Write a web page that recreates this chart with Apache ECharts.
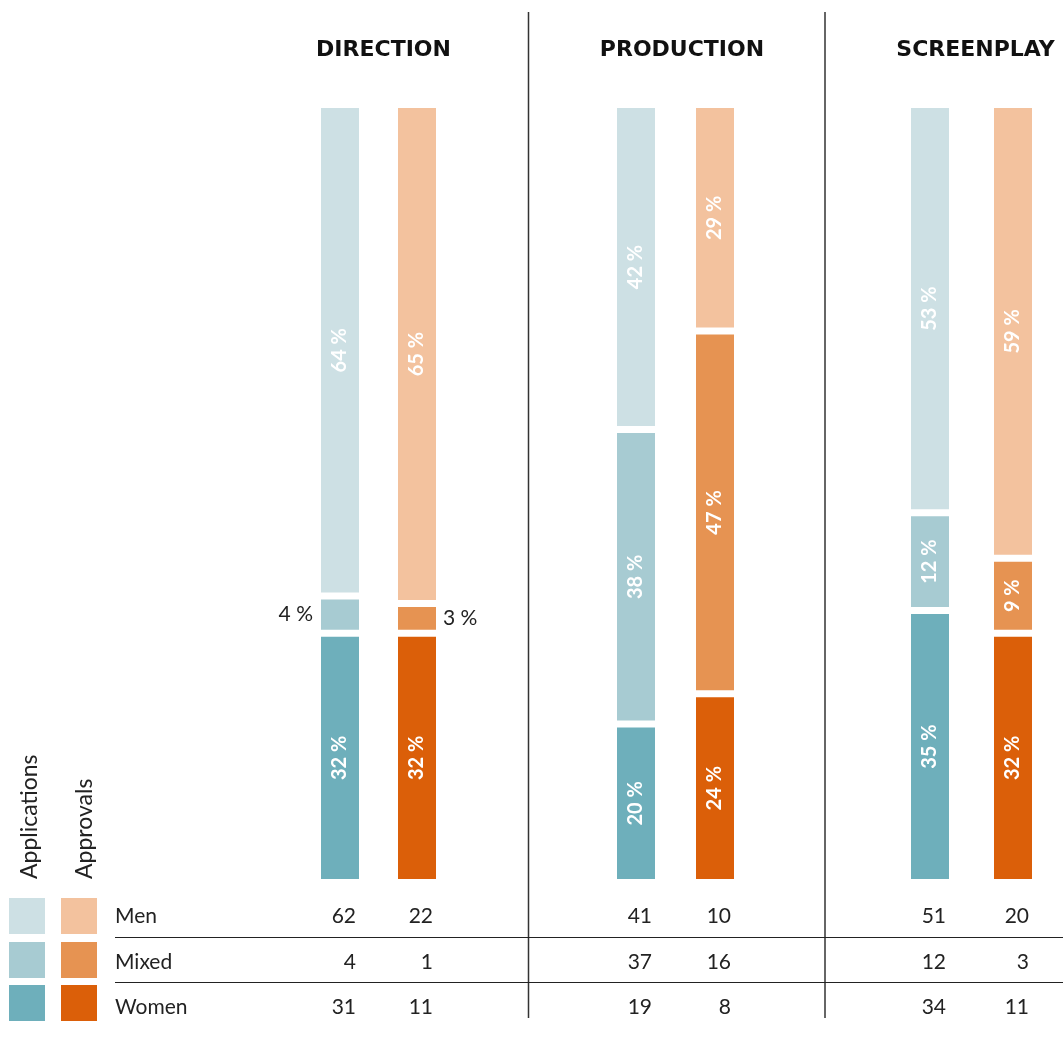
<!DOCTYPE html>
<html>
<head>
<meta charset="utf-8">
<script src="https://cdn.jsdelivr.net/npm/echarts@6/dist/echarts.min.js"></script>
<style>
  html, body { margin: 0; padding: 0; background: #ffffff; }
  #chart { width: 1063px; height: 1042px; }
</style>
</head>
<body>
<div id="chart"></div>
<script>
// ---- data ----
const panels = ['DIRECTION', 'PRODUCTION', 'SCREENPLAY'];
const rowLabels = ['Men', 'Mixed', 'Women'];
const barNames = ['Applications', 'Approvals'];

// shares in % per panel
const appsMenPct   = [64, 42, 53];
const appsMixedPct = [4, 38, 12];
const appsWomenPct = [32, 20, 35];
const apprMenPct   = [65, 29, 59];
const apprMixedPct = [3, 47, 9];
const apprWomenPct = [32, 24, 32];

// counts per panel
const appsMen   = [62, 41, 51];
const appsMixed = [4, 37, 12];
const appsWomen = [31, 19, 34];
const apprMen   = [22, 10, 20];
const apprMixed = [1, 16, 3];
const apprWomen = [11, 8, 11];

// ---- styles ----
const FONT = 'Lato';
const TITLE_FONT = '"DejaVu Sans"';
const appsColors = ['#6eafbb', '#a7cbd2', '#cde0e4']; // women, mixed, men
const apprColors = ['#db5f09', '#e69352', '#f3c29e'];
const gridBoxes = [
  { left: 301.5, width: 154 },
  { left: 596.5, width: 158 },
  { left: 888.5, width: 166 }
];
const titleX = [383.5, 682, 975.5];
const BAR_W = 38;
const GAP = 7;

const chart = echarts.init(document.getElementById('chart'), null, { renderer: 'canvas' });

function renderItem(params, api) {
  const cat = api.value(0);
  const layer = api.value(1);
  const pct = api.value(2);
  const base = api.value(3);
  const pb = api.coord([cat, base]);
  const pt = api.coord([cat, base + pct]);
  const yb = pb[1] - layer * GAP;
  const yt = pt[1] - layer * GAP;
  const x = pb[0] - BAR_W / 2;
  const color = (cat === 0 ? appsColors : apprColors)[layer];
  const children = [{
    type: 'rect',
    shape: { x: x, y: yt, width: BAR_W, height: yb - yt },
    style: { fill: color }
  }];
  const mid = (yt + yb) / 2;
  const txt = pct + ' %';
  if (pct >= 5) {
    children.push({
      type: 'text',
      x: x + BAR_W / 2,
      y: mid,
      rotation: Math.PI / 2,
      style: {
        text: txt, fill: '#ffffff',
        font: 'bold 20px ' + FONT,
        align: 'center', verticalAlign: 'middle'
      }
    });
  } else {
    children.push({
      type: 'text',
      x: cat === 0 ? x - 8 : x + BAR_W + 7,
      y: mid,
      style: {
        text: txt, fill: '#222222',
        font: '21px ' + FONT,
        align: cat === 0 ? 'right' : 'left', verticalAlign: 'middle'
      }
    });
  }
  return { type: 'group', children: children };
}

const pctSets = [
  [appsWomenPct, appsMixedPct, appsMenPct],
  [apprWomenPct, apprMixedPct, apprMenPct]
];

const grids = [], xAxes = [], yAxes = [], series = [];
panels.forEach(function (name, p) {
  grids.push({ left: gridBoxes[p].left, width: gridBoxes[p].width, top: 122, bottom: 163 });
  xAxes.push({ type: 'category', gridIndex: p, data: barNames, show: false });
  yAxes.push({ type: 'value', gridIndex: p, min: 0, max: 100, show: false });
  const data = [];
  for (let b = 0; b < 2; b++) {
    let base = 0;
    for (let l = 0; l < 3; l++) {
      const v = pctSets[b][l][p];
      data.push([b, l, v, base]);
      base += v;
    }
  }
  series.push({
    type: 'custom', name: name, xAxisIndex: p, yAxisIndex: p,
    renderItem: renderItem, data: data, clip: false
  });
});

chart.setOption({
  animation: false,
  backgroundColor: '#ffffff',
  grid: grids, xAxis: xAxes, yAxis: yAxes, series: series
});

// ---- annotations: titles, table, legend ----
const countSets = [
  [appsMen, appsMixed, appsWomen],
  [apprMen, apprMixed, apprWomen]
];
const rowY = [916, 962, 1007];
const g = [];

panels.forEach(function (name, p) {
  g.push({
    type: 'text', x: titleX[p], y: 50,
    style: { text: name, fill: '#111111', font: 'bold 22px ' + TITLE_FONT, align: 'center', verticalAlign: 'middle' }
  });
  for (let b = 0; b < 2; b++) {
    const px = chart.convertToPixel({ gridIndex: p }, [b, 0]);
    for (let r = 0; r < 3; r++) {
      g.push({
        type: 'text', x: px[0] + 16, y: rowY[r],
        style: { text: String(countSets[b][r][p]), fill: '#222222', font: '21px ' + FONT, align: 'right', verticalAlign: 'middle' }
      });
    }
  }
});

// dividers
[528.5, 825].forEach(function (x) {
  g.push({ type: 'line', shape: { x1: x, y1: 12, x2: x, y2: 1018 }, style: { stroke: '#333333', lineWidth: 1.5 } });
});
[937.5, 982.5].forEach(function (y) {
  g.push({ type: 'line', shape: { x1: 115, y1: y, x2: 1063, y2: y }, style: { stroke: '#222222', lineWidth: 1 } });
});

// legend
rowLabels.forEach(function (lab, r) {
  const top = [898, 942, 985][r];
  g.push({ type: 'rect', shape: { x: 9, y: top, width: 36, height: 36 }, style: { fill: appsColors[2 - r] } });
  g.push({ type: 'rect', shape: { x: 61, y: top, width: 36, height: 36 }, style: { fill: apprColors[2 - r] } });
  g.push({
    type: 'text', x: 115, y: rowY[r],
    style: { text: lab, fill: '#222222', font: '21px ' + FONT, align: 'left', verticalAlign: 'middle' }
  });
});
g.push({
  type: 'text', x: 30, y: 879, rotation: Math.PI / 2,
  style: { text: barNames[0], fill: '#222222', font: '23px ' + FONT, align: 'left', verticalAlign: 'middle' }
});
g.push({
  type: 'text', x: 85, y: 879, rotation: Math.PI / 2,
  style: { text: barNames[1], fill: '#222222', font: '23px ' + FONT, align: 'left', verticalAlign: 'middle' }
});

chart.setOption({ graphic: { elements: g } });
</script>
</body>
</html>
